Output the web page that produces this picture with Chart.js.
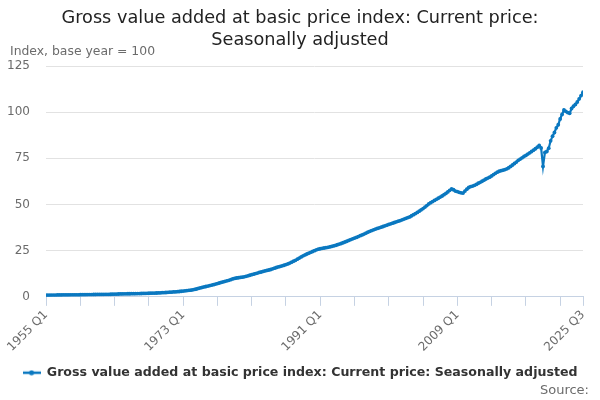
<!DOCTYPE html>
<html>
<head>
<meta charset="utf-8">
<script src="https://cdn.jsdelivr.net/npm/chart.js@4"></script>
<style>
  html, body { margin: 0; padding: 0; background: #fff; }
  #wrap { width: 600px; height: 400px; position: relative; }
</style>
</head>
<body>
<div id="wrap"><canvas id="c" width="600" height="400"></canvas></div>
<script>
// ---- Data (quarterly, 1955 Q1 to 2025 Q3) ----
const startYear = 1955;
const endYear = 2025;
const endQuarter = 3;

const seriesName = "Gross value added at basic price index: Current price: Seasonally adjusted";
const titleLines = ["Gross value added at basic price index: Current price:", "Seasonally adjusted"];
const yUnitLabel = "Index, base year = 100";
const sourceLabel = "Source:";

const values1955to1964 = [
  0.90, 0.91, 0.93, 0.94,
  0.96, 0.97, 0.99, 1.00,
  1.01, 1.03, 1.04, 1.05,
  1.06, 1.07, 1.08, 1.09,
  1.10, 1.12, 1.14, 1.16,
  1.18, 1.20, 1.21, 1.23,
  1.25, 1.27, 1.28, 1.29,
  1.30, 1.32, 1.33, 1.34,
  1.36, 1.39, 1.42, 1.45,
  1.48, 1.51, 1.54, 1.57
];
const values1965to1974 = [
  1.59, 1.62, 1.64, 1.67,
  1.69, 1.71, 1.73, 1.74,
  1.77, 1.79, 1.81, 1.84,
  1.88, 1.92, 1.95, 1.99,
  2.02, 2.05, 2.09, 2.13,
  2.18, 2.24, 2.30, 2.36,
  2.43, 2.51, 2.58, 2.64,
  2.71, 2.80, 2.90, 3.02,
  3.15, 3.28, 3.40, 3.52,
  3.62, 3.80, 4.00, 4.25
];
const values1975to1984 = [
  4.55, 4.85, 5.10, 5.35,
  5.60, 5.85, 6.10, 6.35,
  6.60, 6.90, 7.20, 7.50,
  7.80, 8.10, 8.40, 8.70,
  8.95, 9.30, 9.70, 10.00,
  10.20, 10.35, 10.50, 10.65,
  10.85, 11.10, 11.40, 11.70,
  12.00, 12.30, 12.60, 12.90,
  13.20, 13.45, 13.75, 14.05,
  14.30, 14.55, 14.80, 15.20
];
const values1985to1994 = [
  15.55, 15.90, 16.20, 16.50,
  16.80, 17.10, 17.45, 17.85,
  18.30, 18.80, 19.30, 19.80,
  20.40, 21.00, 21.60, 22.20,
  22.70, 23.20, 23.65, 24.10,
  24.55, 25.00, 25.45, 25.80,
  26.05, 26.25, 26.45, 26.60,
  26.80, 27.05, 27.30, 27.55,
  27.85, 28.20, 28.55, 28.90,
  29.30, 29.70, 30.10, 30.55
];
const values1995to2004 = [
  31.00, 31.40, 31.80, 32.20,
  32.65, 33.10, 33.55, 34.00,
  34.50, 35.00, 35.50, 35.90,
  36.30, 36.70, 37.05, 37.40,
  37.75, 38.10, 38.45, 38.80,
  39.20, 39.55, 39.90, 40.25,
  40.60, 40.95, 41.30, 41.70,
  42.10, 42.50, 42.90, 43.30,
  43.90, 44.50, 45.10, 45.70,
  46.40, 47.10, 47.80, 48.60
];
const values2005to2014 = [
  49.40, 50.30, 51.00, 51.60,
  52.20, 52.80, 53.40, 54.00,
  54.60, 55.30, 56.00, 56.80,
  57.70, 58.40, 58.00, 57.30,
  57.00, 56.60, 56.30, 56.20,
  57.30, 58.30, 59.20, 59.70,
  60.00, 60.40, 60.90, 61.50,
  62.00, 62.60, 63.20, 63.80,
  64.30, 64.80, 65.50, 66.20,
  66.90, 67.50, 68.00, 68.30
];
const values2015to2025 = [
  68.60, 68.90, 69.30, 69.90,
  70.60, 71.40, 72.20, 73.00,
  73.90, 74.60, 75.30, 76.00,
  76.60, 77.30, 78.00, 78.70,
  79.40, 80.20, 81.00, 82.00,
  80.60, 70.60, 78.20, 78.70,
  80.50, 84.50, 87.00, 89.00,
  91.50, 93.20, 96.30, 98.80,
  101.20, 100.40, 99.80, 99.40,
  102.00, 103.20, 104.20, 105.50,
  107.20, 109.00, 110.80
];

const gvaIndex = [].concat(values1955to1964, values1965to1974, values1975to1984,
  values1985to1994, values1995to2004, values2005to2014, values2015to2025);

// Quarter category labels
const quarters = [];
for (let y = startYear; y <= endYear; y++) {
  for (let q = 1; q <= 4; q++) {
    if (y === endYear && q > endQuarter) break;
    quarters.push(y + " Q" + q);
  }
}

const xTickStep = 18;       // minor tick spacing (quarters)
const xLabelStep = 72;      // labelled tick spacing (quarters)
const yTicks = [0, 25, 50, 75, 100, 125];

const lineColor = "#0a78c0";
const FONT = "'DejaVu Sans', 'Noto Sans', sans-serif";

// legend symbol: short line with a dot
const legendSymbol = document.createElement('canvas');
legendSymbol.width = 18; legendSymbol.height = 6;
(function () {
  const g = legendSymbol.getContext('2d');
  g.strokeStyle = lineColor; g.lineWidth = 2.5;
  g.beginPath(); g.moveTo(0, 3); g.lineTo(18, 3); g.stroke();
  g.fillStyle = lineColor;
  g.beginPath(); g.arc(9, 3, 2.5, 0, Math.PI * 2); g.fill();
})();

const extraText = {
  id: 'extraText',
  afterDraw(chart) {
    const ctx = chart.ctx;
    ctx.save();
    ctx.textBaseline = 'middle';
    // title
    ctx.fillStyle = '#222222';
    ctx.font = "17.7px " + FONT;
    ctx.textAlign = 'center';
    ctx.fillText(titleLines[0], 300, 18);
    ctx.fillText(titleLines[1], 300, 40);
    // unit label
    ctx.fillStyle = '#6b6b6b';
    ctx.font = "12.4px " + FONT;
    ctx.textAlign = 'left';
    ctx.fillText(yUnitLabel, 10, 52);
    // source
    ctx.font = "13px " + FONT;
    ctx.textAlign = 'right';
    ctx.fillText(sourceLabel, 589, 391);
    ctx.restore();
  }
};

const points = gvaIndex.map((v, i) => ({ x: i, y: v }));

new Chart(document.getElementById('c'), {
  type: 'line',
  data: {
    datasets: [{
      label: seriesName,
      data: points,
      borderColor: lineColor,
      backgroundColor: lineColor,
      borderWidth: 2.2,
      pointRadius: 1.9,
      pointBorderWidth: 0,
      pointBackgroundColor: lineColor,
      tension: 0,
      fill: false
    }]
  },
  options: {
    responsive: false,
    animation: false,
    layout: { padding: { left: 17, right: 17, top: 66, bottom: 11 } },
    plugins: {
      title: { display: false },
      legend: {
        display: true,
        position: 'bottom',
        labels: {
          color: '#333333',
          font: { family: FONT, size: 12.6, weight: 'bold' },
          usePointStyle: true,
          pointStyleWidth: 18,
          padding: 10,
          generateLabels(chart) {
            return [{
              text: seriesName,
              fillStyle: lineColor,
              strokeStyle: lineColor,
              pointStyle: legendSymbol,
              lineWidth: 0,
              hidden: false,
              datasetIndex: 0,
              fontColor: '#333333'
            }];
          }
        }
      },
      tooltip: { enabled: false }
    },
    scales: {
      x: {
        type: 'linear',
        min: 0,
        max: quarters.length - 1,
        afterBuildTicks(scale) {
          const t = [];
          for (let v = 0; v < quarters.length; v += xTickStep) t.push({ value: v });
          if (t[t.length - 1].value !== quarters.length - 1) t.push({ value: quarters.length - 1 });
          scale.ticks = t;
        },
        ticks: {
          autoSkip: false,
          maxRotation: 45,
          minRotation: 45,
          color: '#6b6b6b',
          font: { family: FONT, size: 12 },
          padding: 2,
          callback(value) {
            if (value % xLabelStep === 0 || value === quarters.length - 1) return quarters[value];
            return '';
          }
        },
        grid: {
          display: true,
          drawOnChartArea: false,
          drawTicks: true,
          tickLength: 9,
          color: '#c6d2e3'
        },
        border: { display: true, color: '#c6d2e3', width: 1 }
      },
      y: {
        min: 0,
        max: 125,
        afterBuildTicks(scale) { scale.ticks = yTicks.map(v => ({ value: v })); },
        afterFit(scale) {
          scale.width = 29;
          // let tick labels extend into the left padding without being clipped
          scale._computeLabelArea = () => undefined;
        },
        ticks: {
          color: '#6b6b6b',
          font: { family: FONT, size: 12 },
          padding: 16
        },
        grid: {
          color: '#e2e2e2',
          drawTicks: false,
          lineWidth: 1
        },
        border: { display: false }
      }
    }
  },
  plugins: [extraText]
});
</script>
</body>
</html>
